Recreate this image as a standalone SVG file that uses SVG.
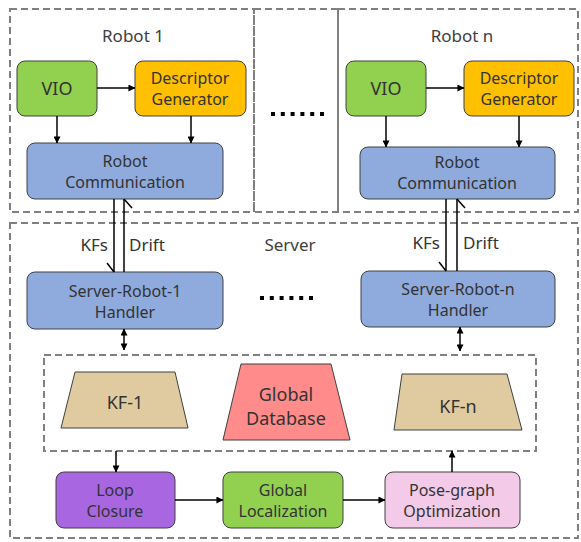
<svg xmlns="http://www.w3.org/2000/svg" width="581" height="542" viewBox="0 0 581 542">
<defs>
<marker id="ah" viewBox="0 0 8 8" refX="7.5" refY="4" markerWidth="7" markerHeight="7" markerUnits="userSpaceOnUse" orient="auto-start-reverse">
<path d="M0,0 L8,4 L0,8 z" fill="#000"/>
</marker>
<style>
.dash{fill:none;stroke:#808080;stroke-width:2;stroke-dasharray:7,4}
.box{stroke:#404040;stroke-width:1}
.t{font-family:"Noto Sans","Liberation Sans",sans-serif;font-size:16px;fill:#333;text-anchor:middle}
.b{font-size:18px}
.ti{font-family:"Noto Sans","Liberation Sans",sans-serif;font-size:17px;fill:#404040;text-anchor:middle}
.c{stroke:#000;stroke-width:1.5;fill:none}
.dots{stroke:#000;stroke-width:4;stroke-dasharray:4,5.8;fill:none}
</style>
</defs>
<rect width="581" height="542" fill="#fff"/>

<g id="frames">
<rect class="dash" x="10" y="9" width="244" height="203"/>
<rect class="dash" x="254" y="9" width="84" height="203"/>
<rect class="dash" x="338" y="9" width="240" height="203"/>
<rect class="dash" x="10" y="223" width="568" height="315"/>
<rect class="dash" x="44" y="355" width="492" height="96"/>
<text class="ti" x="133" y="42">Robot 1</text>
<text class="ti" x="462" y="42">Robot n</text>
<text class="ti" x="290" y="251">Server</text>
<line class="dots" x1="271" y1="114" x2="324" y2="114"/>
<line class="dots" x1="260" y1="298" x2="313" y2="298"/>
</g>

<g id="vio1"><rect class="box" x="17" y="61" width="80" height="55" rx="8" fill="#92D050"/><text class="t b" x="57" y="95">VIO</text></g>
<g id="desc1"><rect class="box" x="135" y="61" width="111" height="55" rx="8" fill="#FFC000"/><text class="t" x="190" y="84">Descriptor</text><text class="t" x="190" y="105">Generator</text></g>
<g id="comm1"><rect class="box" x="27" y="143" width="196" height="56" rx="8" fill="#8FAADC"/><text class="t" x="125" y="167">Robot</text><text class="t" x="125" y="188">Communication</text></g>

<g id="vion"><rect class="box" x="346" y="61" width="80" height="55" rx="8" fill="#92D050"/><text class="t b" x="386" y="95">VIO</text></g>
<g id="descn"><rect class="box" x="464" y="61" width="110" height="55" rx="8" fill="#FFC000"/><text class="t" x="519" y="84">Descriptor</text><text class="t" x="519" y="105">Generator</text></g>
<g id="commn"><rect class="box" x="360" y="147" width="195" height="52" rx="8" fill="#8FAADC"/><text class="t" x="457" y="168">Robot</text><text class="t" x="457" y="189">Communication</text></g>

<g id="handler1"><rect class="box" x="27" y="272" width="196" height="57" rx="8" fill="#8FAADC"/><text class="t" x="125" y="297">Server-Robot-1</text><text class="t" x="125" y="318">Handler</text></g>
<g id="handlern"><rect class="box" x="361" y="271" width="194" height="56" rx="8" fill="#8FAADC"/><text class="t" x="458" y="295">Server-Robot-n</text><text class="t" x="458" y="316">Handler</text></g>

<g id="kf1"><polygon class="box" points="75,372 175,372 188,428 61,428" fill="#E0CBA1"/><text class="t b" x="125" y="409">KF-1</text></g>
<g id="gdb"><polygon class="box" points="241,364 331,364 350,440 223,440" fill="#FF8B8B"/><text class="t b" x="286" y="401">Global</text><text class="t b" x="286" y="425">Database</text></g>
<g id="kfn"><polygon class="box" points="402,374 507,374 522,430 394,430" fill="#E0CBA1"/><text class="t b" x="458" y="413">KF-n</text></g>

<g id="loop"><rect class="box" x="56" y="472" width="119" height="56" rx="8" fill="#A866E0"/><text class="t" x="115" y="496">Loop</text><text class="t" x="115" y="517">Closure</text></g>
<g id="gloc"><rect class="box" x="223" y="472" width="120" height="56" rx="8" fill="#92D050"/><text class="t" x="283" y="496">Global</text><text class="t" x="283" y="517">Localization</text></g>
<g id="pgo"><rect class="box" x="385" y="472" width="135" height="56" rx="8" fill="#F3CBE8"/><text class="t" x="452" y="496">Pose-graph</text><text class="t" x="452" y="517">Optimization</text></g>

<g id="connectors">
<line class="c" x1="97" y1="88" x2="135" y2="88" marker-end="url(#ah)"/>
<line class="c" x1="57" y1="116" x2="57" y2="143" marker-end="url(#ah)"/>
<line class="c" x1="191" y1="116" x2="191" y2="143" marker-end="url(#ah)"/>
<line class="c" x1="426" y1="88" x2="464" y2="88" marker-end="url(#ah)"/>
<line class="c" x1="386" y1="116" x2="386" y2="147" marker-end="url(#ah)"/>
<line class="c" x1="519" y1="116" x2="519" y2="147" marker-end="url(#ah)"/>

<line class="c" x1="114" y1="199" x2="114" y2="272"/>
<path class="c" d="M107,263 L114,272"/>
<line class="c" x1="124" y1="272" x2="124" y2="199"/>
<path class="c" d="M124,199 L132,208"/>
<text class="t" x="108" y="251" style="text-anchor:end;font-size:17px">KFs</text>
<text class="t" x="129" y="251" style="text-anchor:start;font-size:17px">Drift</text>

<line class="c" x1="446" y1="199" x2="446" y2="271"/>
<path class="c" d="M439,262 L446,271"/>
<line class="c" x1="457" y1="271" x2="457" y2="199"/>
<path class="c" d="M457,199 L465,208"/>
<text class="t" x="440" y="249" style="text-anchor:end;font-size:17px">KFs</text>
<text class="t" x="463" y="249" style="text-anchor:start;font-size:17px">Drift</text>

<line class="c" x1="124" y1="329" x2="124" y2="350" marker-start="url(#ah)" marker-end="url(#ah)"/>
<line class="c" x1="460" y1="327" x2="460" y2="351" marker-start="url(#ah)" marker-end="url(#ah)"/>

<line class="c" x1="116" y1="451" x2="116" y2="472" marker-end="url(#ah)"/>
<line class="c" x1="452" y1="472" x2="452" y2="451" marker-end="url(#ah)"/>
<line class="c" x1="175" y1="500" x2="223" y2="500" marker-end="url(#ah)"/>
<line class="c" x1="343" y1="500" x2="385" y2="500" marker-end="url(#ah)"/>
</g>
</svg>
